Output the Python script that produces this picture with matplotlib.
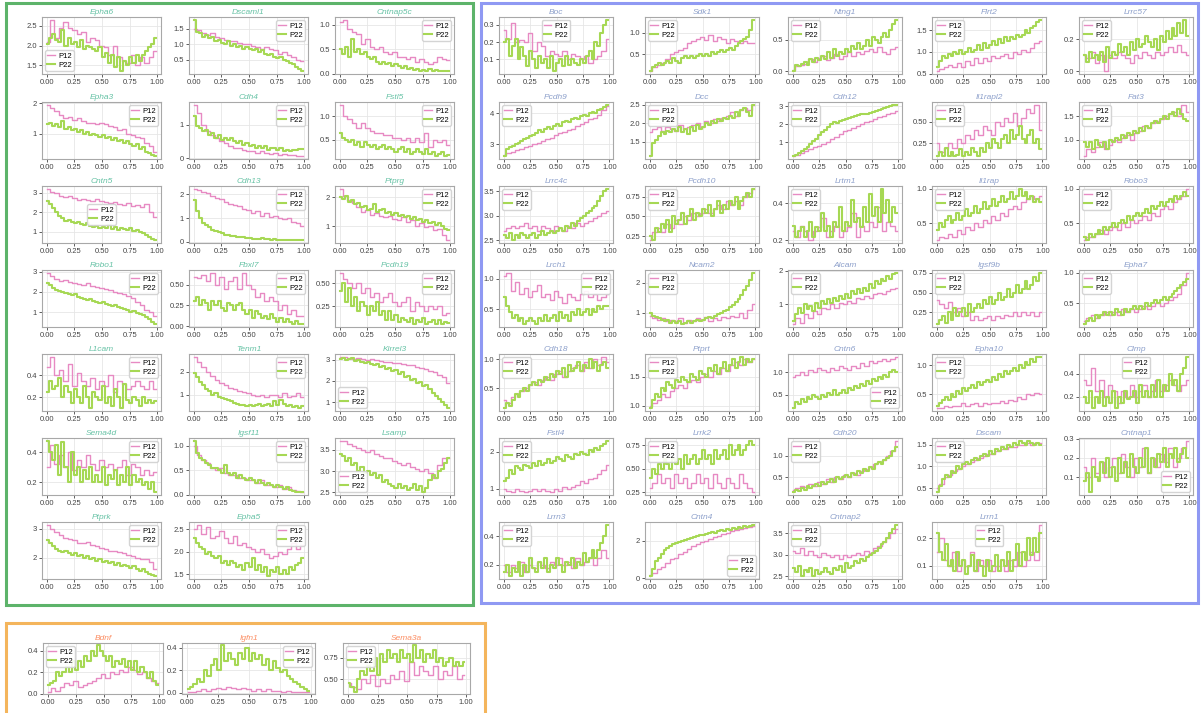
import numpy as np
import matplotlib
matplotlib.use("Agg")
import matplotlib.pyplot as plt
from matplotlib.patches import Rectangle
from matplotlib.ticker import MaxNLocator

# ---- gene groups (panel order, row by row) ----
green_genes = ["Epha6", "Dscaml1", "Cntnap5c", "Epha3", "Cdh4", "Fstl5", "Cntn5", "Cdh13", "Ptprg",
               "Robo1", "Fbxl7", "Pcdh19", "L1cam", "Tenm1", "Kirrel3", "Sema4d", "Igsf11", "Lsamp",
               "Ptprk", "Epha5"]
blue_genes = ["Boc", "Sdk1", "Ntng1", "Flrt2", "Lrrc57", "Pcdh9", "Dcc", "Cdh12", "Il1rapl2", "Fat3",
              "Lrrc4c", "Pcdh10", "Lrtm1", "Il1rap", "Robo3", "Lrch1", "Ncam2", "Alcam", "Igsf9b", "Epha7",
              "Cdh18", "Ptprt", "Cntn6", "Epha10", "Clmp", "Fstl4", "Lrrk2", "Cdh20", "Dscam", "Cntnap1",
              "Lrrn3", "Cntn4", "Cntnap2", "Lrrn1"]
orange_genes = ["Bdnf", "Igfn1", "Sema3a"]

# ---- values (P12 coarse bins, P22 fine bins) ----
epha6_p12 = [2.1, 2.65, 2.2, 2.45, 2.6, 2.45, 2.4, 2.3, 2.35, 2.1, 2.2, 2.15, 2.0, 1.95, 1.75, 2.0, 1.7, 1.6, 1.55, 1.75, 1.5, 1.7, 1.55, 1.7, 1.85]
epha6_p22 = [2.05, 2.2, 2.3, 2.15, 2.1, 2.4, 2.0, 2.2, 2.05, 2.1, 1.95, 2.15, 1.9, 2.0, 1.95, 1.9, 1.85, 1.95, 1.7, 1.8, 1.55, 1.75, 1.45, 1.7, 1.35, 1.6, 1.5, 1.7, 1.55, 1.75, 1.6, 1.75, 1.85, 1.95, 2.05, 2.2]
dscaml1_p12 = [1.5, 1.45, 1.35, 1.3, 1.35, 1.25, 1.2, 1.15, 1.1, 1.1, 1.05, 1.0, 1.0, 0.95, 0.9, 0.85, 0.9, 0.85, 0.8, 0.7, 0.75, 0.65, 0.6, 0.5, 0.45]
dscaml1_p22 = [1.8, 1.4, 1.35, 1.25, 1.3, 1.2, 1.25, 1.1, 1.15, 1.05, 1.0, 1.1, 0.95, 1.0, 0.9, 0.95, 0.85, 0.9, 0.85, 0.8, 0.85, 0.75, 0.8, 0.7, 0.65, 0.7, 0.6, 0.55, 0.6, 0.5, 0.45, 0.4, 0.35, 0.25, 0.2, 0.12]
cntnap5c_p12 = [1.05, 1.1, 0.9, 0.85, 0.8, 0.6, 0.7, 0.55, 0.5, 0.55, 0.45, 0.4, 0.45, 0.35, 0.35, 0.3, 0.35, 0.25, 0.3, 0.25, 0.2, 0.25, 0.35, 0.3, 0.28]
cntnap5c_p22 = [0.5, 0.4, 0.55, 0.35, 0.7, 0.45, 0.5, 0.4, 0.45, 0.35, 0.3, 0.35, 0.25, 0.2, 0.25, 0.2, 0.22, 0.15, 0.2, 0.15, 0.12, 0.15, 0.1, 0.12, 0.08, 0.1, 0.06, 0.08, 0.05, 0.1, 0.06, 0.08, 0.05, 0.06, 0.05, 0.05]
epha3_p12 = [1.95, 1.85, 1.75, 1.6, 1.5, 1.55, 1.45, 1.5, 1.4, 1.35, 1.35, 1.3, 1.35, 1.3, 1.25, 1.2, 1.1, 1.15, 1.0, 0.95, 0.9, 0.85, 0.7, 0.6, 0.4]
epha3_p22 = [1.3, 1.35, 1.25, 1.3, 1.2, 1.4, 1.15, 1.2, 1.1, 1.15, 1.05, 1.1, 1.0, 1.05, 0.95, 1.0, 0.95, 0.9, 0.95, 0.85, 0.9, 0.8, 0.85, 0.75, 0.8, 0.7, 0.75, 0.65, 0.6, 0.65, 0.5, 0.55, 0.4, 0.35, 0.3, 0.25]
cdh4_p12 = [1.6, 1.35, 1.0, 0.8, 0.7, 0.6, 0.5, 0.45, 0.35, 0.3, 0.3, 0.25, 0.2, 0.2, 0.15, 0.2, 0.15, 0.12, 0.15, 0.1, 0.12, 0.08, 0.1, 0.07, 0.05]
cdh4_p22 = [1.25, 0.95, 0.9, 0.8, 0.85, 0.7, 0.75, 0.6, 0.7, 0.55, 0.6, 0.55, 0.6, 0.5, 0.45, 0.5, 0.4, 0.45, 0.35, 0.4, 0.3, 0.35, 0.3, 0.35, 0.25, 0.3, 0.3, 0.25, 0.3, 0.2, 0.25, 0.2, 0.25, 0.25, 0.28, 0.28]
fstl5_p12 = [1.25, 1.0, 0.95, 0.85, 0.75, 0.85, 0.75, 0.7, 0.65, 0.65, 0.6, 0.6, 0.55, 0.55, 0.5, 0.55, 0.45, 0.55, 0.45, 0.65, 0.35, 0.5, 0.45, 0.5, 0.4]
fstl5_p22 = [0.65, 0.55, 0.5, 0.45, 0.5, 0.4, 0.45, 0.35, 0.45, 0.4, 0.35, 0.4, 0.3, 0.35, 0.4, 0.3, 0.35, 0.3, 0.25, 0.3, 0.35, 0.25, 0.3, 0.2, 0.25, 0.3, 0.25, 0.2, 0.3, 0.2, 0.25, 0.15, 0.2, 0.25, 0.15, 0.18]
cntn5_p12 = [3.2, 3.05, 2.95, 2.8, 2.75, 2.8, 2.7, 2.6, 2.65, 2.6, 2.55, 2.65, 2.55, 2.5, 2.45, 2.5, 2.4, 2.35, 2.45, 2.3, 2.35, 2.25, 2.4, 2.0, 1.75]
cntn5_p22 = [2.55, 2.4, 2.2, 2.0, 1.8, 1.7, 1.55, 1.6, 1.5, 1.45, 1.5, 1.4, 1.35, 1.45, 1.3, 1.25, 1.3, 1.2, 1.25, 1.2, 1.35, 1.15, 1.25, 1.1, 1.2, 1.15, 1.1, 1.2, 1.05, 1.1, 1.0, 0.95, 0.85, 0.7, 0.6, 0.55]
cdh13_p12 = [2.25, 2.2, 2.1, 2.05, 1.95, 1.85, 1.8, 1.7, 1.6, 1.55, 1.5, 1.4, 1.35, 1.2, 1.3, 1.1, 1.2, 1.05, 1.1, 1.0, 0.95, 1.0, 0.85, 0.8, 0.65]
cdh13_p22 = [1.75, 1.3, 1.0, 0.8, 0.7, 0.6, 0.5, 0.45, 0.4, 0.35, 0.3, 0.3, 0.25, 0.25, 0.2, 0.2, 0.18, 0.15, 0.15, 0.12, 0.12, 0.1, 0.15, 0.1, 0.1, 0.08, 0.1, 0.08, 0.05, 0.08, 0.05, 0.05, 0.06, 0.05, 0.05, 0.05]
ptprg_p12 = [2.3, 2.05, 1.9, 1.8, 1.65, 1.5, 1.55, 1.4, 1.45, 1.35, 1.3, 1.35, 1.25, 1.2, 1.3, 1.15, 1.2, 1.0, 1.1, 0.95, 1.0, 0.85, 0.9, 0.7, 0.5]
ptprg_p22 = [2.0, 1.95, 2.05, 1.85, 1.9, 1.75, 1.8, 1.65, 1.7, 1.55, 1.6, 1.75, 1.5, 1.55, 1.6, 1.45, 1.5, 1.4, 1.45, 1.35, 1.4, 1.3, 1.35, 1.25, 1.3, 1.2, 1.25, 1.15, 1.2, 1.1, 1.15, 1.05, 1.1, 1.0, 0.9, 0.85]
robo1_p12 = [2.95, 2.8, 2.65, 2.55, 2.6, 2.5, 2.45, 2.4, 2.35, 2.45, 2.3, 2.25, 2.2, 2.15, 2.1, 2.0, 1.95, 1.9, 1.8, 1.7, 1.5, 1.35, 1.1, 1.0, 0.8]
robo1_p22 = [2.45, 2.35, 2.2, 2.1, 2.05, 2.0, 1.95, 1.9, 1.85, 1.9, 1.75, 1.7, 1.65, 1.6, 1.65, 1.55, 1.5, 1.45, 1.5, 1.4, 1.35, 1.3, 1.35, 1.25, 1.2, 1.15, 1.1, 1.0, 1.05, 0.95, 0.9, 0.85, 0.75, 0.65, 0.5, 0.4]
fbxl7_p12 = [0.6, 0.58, 0.62, 0.55, 0.65, 0.5, 0.6, 0.45, 0.55, 0.6, 0.45, 0.65, 0.5, 0.45, 0.35, 0.4, 0.3, 0.35, 0.3, 0.2, 0.25, 0.15, 0.2, 0.12, 0.12]
fbxl7_p22 = [0.3, 0.35, 0.25, 0.32, 0.28, 0.2, 0.3, 0.25, 0.3, 0.22, 0.18, 0.28, 0.25, 0.2, 0.25, 0.28, 0.2, 0.15, 0.2, 0.1, 0.18, 0.15, 0.1, 0.12, 0.08, 0.15, 0.1, 0.05, 0.1, 0.05, 0.08, 0.05, 0.03, 0.06, 0.03, 0.02]
pcdh19_p12 = [0.62, 0.55, 0.5, 0.45, 0.5, 0.4, 0.45, 0.35, 0.4, 0.3, 0.35, 0.4, 0.3, 0.25, 0.3, 0.35, 0.2, 0.3, 0.25, 0.2, 0.25, 0.22, 0.25, 0.15, 0.18]
pcdh19_p22 = [0.42, 0.5, 0.3, 0.45, 0.25, 0.35, 0.2, 0.3, 0.25, 0.15, 0.25, 0.2, 0.3, 0.15, 0.2, 0.1, 0.2, 0.1, 0.15, 0.08, 0.12, 0.1, 0.08, 0.12, 0.05, 0.1, 0.08, 0.12, 0.05, 0.08, 0.1, 0.05, 0.1, 0.05, 0.08, 0.06]
l1cam_p12 = [0.48, 0.57, 0.4, 0.45, 0.35, 0.5, 0.3, 0.42, 0.35, 0.3, 0.38, 0.28, 0.35, 0.3, 0.4, 0.25, 0.35, 0.32, 0.28, 0.3, 0.35, 0.3, 0.28, 0.35, 0.28]
l1cam_p22 = [0.25, 0.35, 0.28, 0.3, 0.38, 0.2, 0.3, 0.25, 0.15, 0.28, 0.2, 0.15, 0.3, 0.2, 0.1, 0.25, 0.2, 0.18, 0.3, 0.15, 0.2, 0.12, 0.28, 0.2, 0.1, 0.32, 0.18, 0.15, 0.2, 0.18, 0.12, 0.2, 0.15, 0.18, 0.15, 0.17]
tenm1_p12 = [2.65, 2.4, 2.2, 2.0, 1.8, 1.65, 1.5, 1.4, 1.3, 1.25, 1.15, 1.1, 1.05, 1.0, 0.95, 1.0, 0.9, 1.0, 1.0, 0.9, 1.05, 0.9, 0.95, 1.05, 0.9]
tenm1_p22 = [1.95, 1.75, 1.55, 1.4, 1.25, 1.15, 1.0, 1.05, 0.9, 0.85, 0.8, 0.75, 0.7, 0.65, 0.6, 0.55, 0.55, 0.5, 0.55, 0.5, 0.55, 0.6, 0.5, 0.55, 0.6, 0.5, 0.7, 0.55, 0.75, 0.6, 0.5, 0.55, 0.45, 0.5, 0.4, 0.5]
kirrel3_p12 = [3.15, 3.15, 3.1, 3.05, 3.1, 3.05, 3.0, 3.05, 3.0, 2.95, 2.9, 2.9, 2.85, 2.85, 2.8, 2.75, 2.75, 2.65, 2.6, 2.55, 2.45, 2.4, 2.3, 2.2, 1.9]
kirrel3_p22 = [3.05, 3.1, 3.0, 3.05, 3.1, 2.95, 3.0, 2.9, 2.85, 2.9, 2.8, 2.75, 2.8, 2.65, 2.7, 2.55, 2.6, 2.45, 2.5, 2.35, 2.4, 2.2, 2.25, 2.05, 2.1, 1.9, 1.95, 1.75, 1.8, 1.6, 1.45, 1.3, 1.15, 1.0, 0.85, 0.7]
sema4d_p12 = [0.3, 0.45, 0.32, 0.38, 0.3, 0.4, 0.28, 0.35, 0.3, 0.38, 0.32, 0.28, 0.35, 0.3, 0.32, 0.28, 0.3, 0.35, 0.25, 0.32, 0.3, 0.25, 0.28, 0.25, 0.27]
sema4d_p22 = [0.48, 0.4, 0.35, 0.45, 0.25, 0.47, 0.3, 0.2, 0.4, 0.25, 0.3, 0.2, 0.28, 0.22, 0.3, 0.2, 0.25, 0.2, 0.3, 0.18, 0.25, 0.22, 0.28, 0.18, 0.25, 0.2, 0.3, 0.18, 0.25, 0.2, 0.22, 0.18, 0.2, 0.15, 0.2, 0.13]
igsf11_p12 = [1.0, 0.8, 0.7, 0.65, 0.55, 0.5, 0.55, 0.45, 0.4, 0.4, 0.35, 0.35, 0.3, 0.3, 0.25, 0.3, 0.2, 0.2, 0.15, 0.2, 0.12, 0.15, 0.1, 0.08, 0.05]
igsf11_p22 = [1.1, 0.85, 0.75, 0.7, 0.65, 0.6, 0.55, 0.55, 0.5, 0.45, 0.6, 0.45, 0.4, 0.45, 0.35, 0.4, 0.35, 0.3, 0.35, 0.3, 0.25, 0.3, 0.25, 0.2, 0.25, 0.2, 0.15, 0.2, 0.15, 0.12, 0.15, 0.1, 0.08, 0.05, 0.05, 0.05]
lsamp_p12 = [3.72, 3.7, 3.65, 3.6, 3.55, 3.5, 3.45, 3.5, 3.4, 3.35, 3.3, 3.3, 3.25, 3.2, 3.15, 3.2, 3.1, 3.05, 3.0, 3.05, 2.95, 2.85, 3.15, 3.3, 3.3]
lsamp_p22 = [3.4, 3.35, 3.25, 3.3, 3.15, 3.2, 3.0, 3.1, 2.95, 3.0, 2.9, 2.95, 2.85, 2.9, 2.75, 2.8, 2.7, 2.65, 2.6, 2.7, 2.6, 2.65, 2.55, 2.6, 2.7, 2.55, 2.65, 2.5, 2.6, 2.8, 2.9, 2.85, 3.0, 3.05, 3.2, 3.3]
ptprk_p12 = [3.15, 3.0, 2.9, 2.8, 2.7, 2.65, 2.6, 2.5, 2.5, 2.55, 2.45, 2.4, 2.35, 2.3, 2.25, 2.25, 2.2, 2.15, 2.1, 2.05, 2.0, 1.95, 1.95, 1.85, 1.6]
ptprk_p22 = [2.6, 2.5, 2.4, 2.3, 2.25, 2.2, 2.25, 2.15, 2.1, 2.15, 2.05, 2.1, 2.0, 2.05, 1.95, 2.0, 1.9, 1.95, 1.85, 1.9, 1.8, 1.85, 1.75, 1.8, 1.7, 1.75, 1.7, 1.65, 1.7, 1.6, 1.55, 1.6, 1.5, 1.45, 1.4, 1.35]
epha5_p12 = [2.5, 2.6, 2.4, 2.55, 2.3, 2.35, 2.45, 2.3, 2.2, 2.35, 2.15, 2.2, 2.1, 2.05, 2.0, 2.05, 1.95, 1.85, 1.9, 2.0, 1.95, 2.05, 2.2, 2.05, 2.15]
epha5_p22 = [2.3, 2.2, 2.1, 2.05, 1.95, 2.0, 1.9, 1.85, 1.9, 1.75, 1.8, 1.7, 1.8, 1.75, 1.65, 1.7, 1.6, 1.75, 1.65, 1.85, 1.6, 1.7, 1.55, 1.65, 1.45, 1.6, 1.55, 1.65, 1.5, 1.6, 1.5, 1.65, 1.6, 1.7, 1.75, 1.85]

boc_p12 = [0.27, 0.22, 0.31, 0.2, 0.21, 0.2, 0.25, 0.15, 0.2, 0.18, 0.12, 0.15, 0.13, 0.12, 0.15, 0.1, 0.13, 0.12, 0.1, 0.12, 0.08, 0.1, 0.12, 0.15, 0.22]
boc_p22 = [0.2, 0.22, 0.12, 0.18, 0.22, 0.1, 0.17, 0.12, 0.06, 0.15, 0.1, 0.05, 0.12, 0.08, 0.1, 0.05, 0.12, 0.03, 0.08, 0.1, 0.06, 0.12, 0.07, 0.1, 0.08, 0.07, 0.1, 0.08, 0.12, 0.15, 0.1, 0.2, 0.18, 0.25, 0.3, 0.33]
sdk1_p12 = [0.12, 0.2, 0.25, 0.3, 0.38, 0.5, 0.55, 0.6, 0.65, 0.75, 0.8, 0.85, 0.9, 0.82, 0.95, 0.8, 0.9, 0.85, 0.75, 0.85, 0.8, 0.75, 0.8, 0.75, 0.75]
sdk1_p22 = [0.1, 0.2, 0.25, 0.3, 0.25, 0.3, 0.35, 0.3, 0.4, 0.35, 0.3, 0.4, 0.45, 0.4, 0.45, 0.4, 0.45, 0.5, 0.45, 0.5, 0.45, 0.55, 0.5, 0.55, 0.6, 0.55, 0.6, 0.65, 0.6, 0.7, 0.75, 0.8, 0.85, 0.9, 1.05, 1.3]
ntng1_p12 = [0.02, 0.08, 0.1, 0.12, 0.2, 0.15, 0.22, 0.25, 0.18, 0.22, 0.28, 0.2, 0.25, 0.3, 0.25, 0.3, 0.28, 0.32, 0.35, 0.3, 0.38, 0.3, 0.28, 0.35, 0.38]
ntng1_p22 = [0.0, 0.1, 0.08, 0.12, 0.15, 0.1, 0.2, 0.15, 0.22, 0.18, 0.25, 0.2, 0.3, 0.22, 0.35, 0.25, 0.3, 0.28, 0.35, 0.3, 0.4, 0.35, 0.45, 0.35, 0.4, 0.5, 0.4, 0.55, 0.5, 0.45, 0.55, 0.6, 0.55, 0.65, 0.75, 0.82]
flrt2_p12 = [0.55, 0.6, 0.65, 0.7, 0.65, 0.75, 0.65, 0.8, 0.7, 0.85, 0.75, 0.85, 0.8, 0.9, 0.85, 0.9, 0.95, 0.85, 1.0, 0.95, 1.05, 1.0, 1.1, 1.2, 1.25]
flrt2_p22 = [0.65, 0.8, 0.9, 0.85, 0.95, 0.9, 1.0, 0.95, 1.05, 0.95, 1.0, 1.1, 1.0, 1.05, 1.15, 1.05, 1.2, 1.1, 1.15, 1.25, 1.15, 1.3, 1.2, 1.35, 1.25, 1.35, 1.3, 1.4, 1.35, 1.4, 1.5, 1.45, 1.55, 1.6, 1.7, 1.75]
lrrc57_p12 = [0.1, 0.08, 0.12, 0.05, 0.1, 0.0, 0.1, 0.08, 0.12, 0.1, 0.08, 0.05, 0.1, 0.08, 0.12, 0.1, 0.08, 0.12, 0.1, 0.12, 0.15, 0.12, 0.16, 0.12, 0.1]
lrrc57_p22 = [0.1, 0.06, 0.12, 0.08, 0.1, 0.07, 0.12, 0.06, 0.15, 0.08, 0.12, 0.1, 0.17, 0.12, 0.15, 0.1, 0.18, 0.13, 0.2, 0.15, 0.17, 0.22, 0.18, 0.15, 0.2, 0.13, 0.22, 0.18, 0.25, 0.2, 0.27, 0.22, 0.3, 0.24, 0.32, 0.22]
pcdh9_p12 = [2.65, 2.7, 2.75, 2.8, 2.85, 2.9, 2.95, 3.0, 3.05, 3.1, 3.15, 3.2, 3.3, 3.35, 3.4, 3.45, 3.5, 3.6, 3.65, 3.7, 3.8, 3.85, 3.95, 4.1, 4.25]
pcdh9_p22 = [2.6, 2.85, 2.9, 2.95, 3.0, 3.05, 3.1, 3.15, 3.2, 3.25, 3.3, 3.35, 3.45, 3.4, 3.5, 3.55, 3.5, 3.6, 3.65, 3.6, 3.7, 3.75, 3.7, 3.8, 3.85, 3.8, 3.9, 3.95, 3.9, 4.0, 4.05, 4.0, 4.1, 4.15, 4.2, 4.28]
dcc_p12 = [1.75, 1.85, 1.9, 1.8, 1.9, 1.85, 1.8, 1.95, 1.85, 1.9, 1.95, 2.0, 1.9, 2.05, 2.0, 2.1, 2.05, 2.15, 2.2, 2.3, 2.2, 2.35, 2.4, 2.35, 2.5]
dcc_p22 = [1.1, 1.45, 1.55, 1.65, 1.75, 1.7, 1.8, 1.75, 1.85, 1.8, 1.9, 1.75, 1.85, 1.7, 1.9, 1.8, 1.95, 1.85, 1.9, 2.0, 1.95, 2.05, 2.0, 2.1, 2.05, 2.15, 2.1, 2.2, 2.15, 2.3, 2.2, 2.35, 2.4, 2.3, 2.2, 2.5]
cdh12_p12 = [0.2, 0.3, 0.4, 0.5, 0.6, 0.7, 0.8, 0.9, 1.0, 1.15, 1.3, 1.45, 1.6, 1.7, 1.8, 1.9, 2.0, 2.1, 2.2, 2.3, 2.4, 2.45, 2.55, 2.65, 2.75]
cdh12_p22 = [0.25, 0.3, 0.4, 0.5, 0.6, 0.75, 0.9, 1.05, 1.2, 1.4, 1.55, 1.7, 1.85, 2.0, 2.1, 2.05, 2.2, 2.25, 2.3, 2.35, 2.4, 2.45, 2.5, 2.55, 2.6, 2.6, 2.65, 2.7, 2.75, 2.8, 2.85, 2.9, 2.95, 3.0, 3.05, 3.1]
il1rapl2_p12 = [0.25, 0.15, 0.2, 0.25, 0.2, 0.3, 0.25, 0.35, 0.3, 0.4, 0.35, 0.45, 0.4, 0.35, 0.5, 0.45, 0.55, 0.5, 0.6, 0.45, 0.55, 0.65, 0.6, 0.7, 0.4]
il1rapl2_p22 = [0.1, 0.15, 0.1, 0.2, 0.1, 0.15, 0.1, 0.12, 0.18, 0.1, 0.15, 0.12, 0.2, 0.15, 0.1, 0.2, 0.15, 0.25, 0.2, 0.3, 0.25, 0.2, 0.3, 0.35, 0.25, 0.4, 0.3, 0.35, 0.45, 0.3, 0.25, 0.35, 0.4, 0.25, 0.3, 0.18]
fat3_p12 = [0.65, 0.8, 0.75, 0.85, 0.95, 0.8, 0.9, 1.0, 0.95, 1.05, 1.1, 1.0, 1.15, 1.2, 1.3, 1.25, 1.35, 1.4, 1.45, 1.5, 1.55, 1.6, 1.5, 1.75, 1.6]
fat3_p22 = [0.95, 0.85, 0.95, 0.8, 1.0, 0.9, 0.85, 0.95, 0.8, 1.0, 0.95, 1.05, 1.0, 1.1, 1.05, 1.15, 1.1, 1.2, 1.15, 1.25, 1.2, 1.3, 1.25, 1.35, 1.4, 1.35, 1.45, 1.5, 1.45, 1.55, 1.6, 1.5, 1.65, 1.55, 1.45, 1.4]
lrrc4c_p12 = [2.7, 2.75, 2.8, 2.75, 2.8, 2.85, 2.75, 2.8, 2.7, 2.8, 2.75, 2.7, 2.8, 2.75, 2.7, 2.8, 2.75, 2.85, 2.8, 2.85, 2.9, 2.95, 3.0, 3.05, 3.1]
lrrc4c_p22 = [2.6, 2.55, 2.65, 2.5, 2.6, 2.55, 2.65, 2.6, 2.55, 2.6, 2.65, 2.55, 2.6, 2.7, 2.6, 2.65, 2.7, 2.65, 2.7, 2.75, 2.7, 2.8, 2.75, 2.85, 2.8, 2.9, 2.95, 3.0, 3.05, 3.1, 3.15, 3.2, 3.3, 3.4, 3.5, 3.55]
pcdh10_p12 = [0.2, 0.3, 0.35, 0.3, 0.4, 0.35, 0.45, 0.4, 0.5, 0.45, 0.55, 0.5, 0.55, 0.6, 0.55, 0.6, 0.65, 0.6, 0.7, 0.65, 0.7, 0.65, 0.75, 0.8, 0.85]
pcdh10_p22 = [0.25, 0.2, 0.35, 0.3, 0.4, 0.35, 0.45, 0.3, 0.5, 0.4, 0.45, 0.55, 0.4, 0.5, 0.6, 0.45, 0.55, 0.5, 0.6, 0.55, 0.65, 0.5, 0.6, 0.7, 0.55, 0.65, 0.6, 0.7, 0.65, 0.75, 0.6, 0.7, 0.75, 0.8, 0.75, 0.85]
lrtm1_p12 = [0.25, 0.22, 0.28, 0.25, 0.2, 0.25, 0.27, 0.32, 0.22, 0.25, 0.28, 0.22, 0.25, 0.27, 0.35, 0.22, 0.28, 0.25, 0.3, 0.27, 0.38, 0.25, 0.3, 0.28, 0.25]
lrtm1_p22 = [0.28, 0.22, 0.25, 0.27, 0.22, 0.25, 0.3, 0.22, 0.27, 0.25, 0.35, 0.25, 0.28, 0.22, 0.3, 0.27, 0.38, 0.25, 0.3, 0.28, 0.42, 0.3, 0.32, 0.27, 0.38, 0.3, 0.45, 0.33, 0.38, 0.3, 0.48, 0.35, 0.42, 0.3, 0.38, 0.35]
il1rap_p12 = [0.25, 0.3, 0.28, 0.35, 0.3, 0.4, 0.35, 0.45, 0.4, 0.5, 0.45, 0.55, 0.5, 0.6, 0.55, 0.65, 0.6, 0.7, 0.75, 0.7, 0.8, 0.85, 0.9, 0.85, 0.9]
il1rap_p22 = [0.4, 0.5, 0.45, 0.55, 0.6, 0.5, 0.55, 0.65, 0.55, 0.6, 0.7, 0.6, 0.65, 0.75, 0.65, 0.7, 0.8, 0.7, 0.75, 0.85, 0.75, 0.8, 0.9, 0.8, 0.85, 0.95, 0.85, 0.9, 1.0, 0.9, 0.95, 0.85, 0.9, 0.8, 0.85, 0.8]
robo3_p12 = [0.25, 0.3, 0.3, 0.35, 0.4, 0.35, 0.4, 0.45, 0.4, 0.5, 0.45, 0.55, 0.5, 0.55, 0.6, 0.55, 0.65, 0.6, 0.7, 0.75, 0.7, 0.8, 0.85, 0.9, 1.0]
robo3_p22 = [0.3, 0.25, 0.35, 0.3, 0.35, 0.4, 0.35, 0.45, 0.4, 0.45, 0.5, 0.45, 0.5, 0.55, 0.5, 0.6, 0.55, 0.6, 0.65, 0.6, 0.65, 0.7, 0.65, 0.75, 0.7, 0.75, 0.8, 0.75, 0.8, 0.85, 0.8, 0.9, 0.85, 0.9, 0.95, 0.9]
lrch1_p12 = [1.05, 1.1, 0.8, 0.95, 0.75, 0.85, 0.7, 0.8, 0.9, 0.7, 0.75, 0.65, 0.8, 0.7, 0.6, 0.75, 0.7, 0.65, 0.75, 0.8, 0.7, 0.75, 0.65, 0.7, 0.75]
lrch1_p22 = [0.7, 0.55, 0.45, 0.35, 0.4, 0.3, 0.35, 0.25, 0.3, 0.35, 0.3, 0.25, 0.35, 0.3, 0.4, 0.3, 0.35, 0.4, 0.3, 0.45, 0.35, 0.4, 0.3, 0.45, 0.4, 0.5, 0.4, 0.45, 0.5, 0.4, 0.5, 0.45, 0.55, 0.5, 0.55, 0.55]
ncam2_p12 = [0.9, 0.8, 0.75, 0.8, 0.7, 0.75, 0.7, 0.8, 0.65, 0.75, 0.7, 0.8, 0.75, 0.85, 0.7, 0.8, 0.75, 0.85, 0.8, 0.9, 0.85, 1.0, 0.8, 1.1, 1.3]
ncam2_p22 = [1.0, 0.9, 0.85, 0.8, 0.75, 0.7, 0.75, 0.65, 0.7, 0.65, 0.7, 0.6, 0.65, 0.7, 0.65, 0.7, 0.75, 0.7, 0.75, 0.8, 0.85, 0.8, 0.9, 0.95, 1.0, 1.05, 1.1, 1.2, 1.25, 1.35, 1.45, 1.6, 1.75, 1.9, 2.1, 2.35]
alcam_p12 = [0.4, 0.6, 0.45, 0.7, 0.6, 0.8, 0.7, 0.9, 0.85, 1.0, 0.9, 1.05, 1.0, 1.1, 1.05, 1.2, 1.15, 1.25, 1.2, 1.3, 1.35, 1.3, 1.4, 1.45, 1.5]
alcam_p22 = [0.5, 0.7, 0.9, 0.75, 1.0, 0.85, 0.95, 0.8, 1.05, 0.9, 1.1, 1.0, 1.15, 1.05, 1.2, 1.1, 1.25, 1.15, 1.3, 1.2, 1.4, 1.3, 1.45, 1.35, 1.5, 1.4, 1.6, 1.5, 1.7, 1.6, 1.75, 1.7, 1.85, 1.75, 1.9, 1.95]
igsf9b_p12 = [0.4, 0.35, 0.3, 0.38, 0.25, 0.3, 0.2, 0.25, 0.15, 0.2, 0.15, 0.18, 0.2, 0.15, 0.2, 0.18, 0.22, 0.2, 0.25, 0.2, 0.25, 0.22, 0.25, 0.2, 0.25]
igsf9b_p22 = [0.1, 0.15, 0.2, 0.12, 0.25, 0.15, 0.3, 0.2, 0.25, 0.3, 0.2, 0.35, 0.25, 0.3, 0.35, 0.3, 0.4, 0.35, 0.45, 0.35, 0.4, 0.5, 0.4, 0.45, 0.55, 0.45, 0.5, 0.6, 0.5, 0.55, 0.65, 0.55, 0.6, 0.7, 0.65, 0.75]
epha7_p12 = [0.2, 0.25, 0.3, 0.25, 0.3, 0.35, 0.3, 0.35, 0.3, 0.4, 0.35, 0.4, 0.35, 0.4, 0.45, 0.4, 0.45, 0.5, 0.45, 0.5, 0.55, 0.6, 0.65, 0.8, 1.0]
epha7_p22 = [0.15, 0.2, 0.25, 0.2, 0.3, 0.25, 0.3, 0.35, 0.3, 0.35, 0.3, 0.4, 0.35, 0.3, 0.4, 0.35, 0.4, 0.45, 0.4, 0.45, 0.4, 0.5, 0.45, 0.5, 0.55, 0.5, 0.55, 0.6, 0.55, 0.6, 0.65, 0.7, 0.75, 0.8, 0.85, 0.9]
cdh18_p12 = [0.3, 0.25, 0.35, 0.4, 0.45, 0.5, 0.55, 0.6, 0.55, 0.65, 0.7, 0.65, 0.75, 0.8, 0.7, 0.8, 0.85, 0.9, 0.8, 0.95, 0.85, 1.0, 0.9, 1.05, 0.95]
cdh18_p22 = [0.15, 0.25, 0.2, 0.3, 0.4, 0.35, 0.45, 0.5, 0.45, 0.55, 0.6, 0.55, 0.65, 0.6, 0.7, 0.65, 0.75, 0.7, 0.8, 0.75, 0.85, 0.7, 0.9, 0.8, 0.85, 0.95, 0.8, 0.9, 0.85, 1.0, 0.85, 0.95, 0.8, 0.9, 0.95, 0.85]
ptprt_p12 = [1.0, 1.05, 1.1, 1.2, 1.15, 1.25, 1.3, 1.35, 1.3, 1.4, 1.45, 1.4, 1.5, 1.55, 1.5, 1.6, 1.55, 1.65, 1.6, 1.7, 1.75, 1.7, 1.8, 1.75, 1.8]
ptprt_p22 = [0.95, 1.1, 1.2, 1.15, 1.3, 1.25, 1.4, 1.35, 1.3, 1.45, 1.4, 1.5, 1.45, 1.4, 1.55, 1.5, 1.45, 1.6, 1.55, 1.5, 1.65, 1.6, 1.7, 1.55, 1.65, 1.75, 1.6, 1.7, 1.8, 1.65, 1.75, 1.85, 1.7, 1.8, 1.75, 1.8]
cntn6_p12 = [0.9, 0.95, 1.0, 0.95, 1.05, 1.0, 1.1, 1.05, 1.0, 1.1, 1.05, 1.15, 1.1, 1.05, 1.15, 1.1, 1.2, 1.15, 1.25, 1.2, 1.25, 1.3, 1.25, 1.3, 1.35]
cntn6_p22 = [0.2, 0.35, 0.3, 0.4, 0.35, 0.45, 0.4, 0.5, 0.45, 0.4, 0.5, 0.45, 0.55, 0.5, 0.6, 0.5, 0.55, 0.6, 0.55, 0.65, 0.6, 0.7, 0.65, 0.75, 0.7, 0.8, 0.75, 0.85, 0.8, 0.9, 0.85, 0.95, 0.9, 1.0, 1.05, 1.0]
epha10_p12 = [0.25, 0.25, 0.3, 0.28, 0.3, 0.3, 0.35, 0.3, 0.32, 0.35, 0.3, 0.35, 0.32, 0.35, 0.35, 0.38, 0.35, 0.4, 0.38, 0.45, 0.42, 0.5, 0.48, 0.52, 0.5]
epha10_p22 = [0.3, 0.35, 0.4, 0.45, 0.4, 0.5, 0.45, 0.55, 0.5, 0.6, 0.55, 0.6, 0.65, 0.6, 0.7, 0.65, 0.7, 0.75, 0.7, 0.8, 0.75, 0.85, 0.8, 0.9, 0.85, 0.9, 0.95, 0.9, 1.0, 0.95, 1.05, 1.0, 1.1, 1.05, 1.15, 1.15]
clmp_p12 = [0.35, 0.3, 0.45, 0.25, 0.35, 0.2, 0.3, 0.25, 0.15, 0.25, 0.2, 0.3, 0.2, 0.25, 0.3, 0.2, 0.25, 0.35, 0.25, 0.3, 0.35, 0.3, 0.25, 0.3, 0.35]
clmp_p22 = [0.2, 0.15, 0.25, 0.1, 0.2, 0.15, 0.25, 0.12, 0.2, 0.15, 0.25, 0.1, 0.2, 0.15, 0.25, 0.18, 0.2, 0.25, 0.15, 0.3, 0.2, 0.25, 0.2, 0.3, 0.2, 0.35, 0.2, 0.3, 0.25, 0.4, 0.3, 0.35, 0.25, 0.4, 0.45, 0.55]
fstl4_p12 = [1.0, 0.95, 0.9, 1.0, 0.95, 0.9, 0.95, 1.0, 0.95, 1.0, 0.95, 0.9, 1.0, 0.95, 1.05, 1.0, 1.05, 1.1, 1.2, 1.15, 1.25, 1.3, 1.4, 1.5, 1.65]
fstl4_p22 = [1.2, 1.3, 1.5, 1.4, 1.6, 1.55, 1.5, 1.65, 1.6, 1.55, 1.7, 1.6, 1.75, 1.65, 1.7, 1.8, 1.7, 1.75, 1.85, 1.8, 1.75, 1.9, 1.85, 1.8, 1.95, 1.9, 2.0, 1.95, 1.9, 2.05, 2.0, 2.1, 2.05, 2.15, 2.2, 2.3]
lrrk2_p12 = [0.3, 0.35, 0.45, 0.35, 0.4, 0.3, 0.45, 0.35, 0.4, 0.3, 0.35, 0.45, 0.35, 0.4, 0.3, 0.45, 0.35, 0.3, 0.4, 0.35, 0.3, 0.45, 0.35, 0.3, 0.25]
lrrk2_p22 = [0.4, 0.5, 0.45, 0.55, 0.5, 0.6, 0.55, 0.5, 0.6, 0.55, 0.6, 0.5, 0.65, 0.55, 0.6, 0.65, 0.55, 0.6, 0.7, 0.6, 0.65, 0.55, 0.7, 0.6, 0.65, 0.7, 0.6, 0.75, 0.65, 0.7, 0.75, 0.65, 0.7, 0.75, 0.8, 0.75]
cdh20_p12 = [0.2, 0.25, 0.3, 0.28, 0.35, 0.3, 0.4, 0.35, 0.45, 0.4, 0.5, 0.45, 0.55, 0.5, 0.6, 0.55, 0.65, 0.7, 0.75, 0.8, 0.85, 0.9, 1.0, 1.1, 1.35]
cdh20_p22 = [0.15, 0.2, 0.18, 0.25, 0.2, 0.3, 0.25, 0.3, 0.35, 0.3, 0.4, 0.35, 0.4, 0.45, 0.4, 0.5, 0.45, 0.5, 0.55, 0.5, 0.6, 0.55, 0.65, 0.6, 0.7, 0.65, 0.75, 0.7, 0.8, 0.85, 0.8, 0.9, 0.95, 1.0, 1.1, 1.2]
dscam_p12 = [0.5, 0.6, 0.75, 0.8, 0.9, 0.95, 1.0, 1.05, 1.1, 1.15, 1.2, 1.25, 1.3, 1.3, 1.35, 1.4, 1.4, 1.45, 1.45, 1.5, 1.5, 1.55, 1.5, 1.55, 1.55]
dscam_p22 = [0.4, 0.55, 0.7, 0.8, 0.75, 0.9, 0.85, 1.0, 0.95, 1.05, 1.1, 1.05, 1.15, 1.2, 1.15, 1.25, 1.3, 1.25, 1.35, 1.3, 1.4, 1.35, 1.45, 1.4, 1.5, 1.45, 1.55, 1.5, 1.6, 1.55, 1.5, 1.6, 1.55, 1.5, 1.55, 1.5]
cntnap1_p12 = [0.15, 0.1, 0.2, 0.12, 0.18, 0.1, 0.15, 0.2, 0.12, 0.22, 0.15, 0.1, 0.2, 0.15, 0.25, 0.12, 0.2, 0.15, 0.22, 0.18, 0.25, 0.15, 0.2, 0.25, 0.29]
cntnap1_p22 = [0.08, 0.12, 0.02, 0.15, 0.1, 0.08, 0.18, 0.12, 0.2, 0.1, 0.15, 0.08, 0.2, 0.12, 0.18, 0.1, 0.22, 0.15, 0.12, 0.2, 0.15, 0.25, 0.12, 0.2, 0.15, 0.22, 0.18, 0.25, 0.15, 0.22, 0.2, 0.25, 0.18, 0.22, 0.25, 0.2]
lrrn3_p12 = [0.2, 0.15, 0.2, 0.18, 0.22, 0.15, 0.2, 0.18, 0.22, 0.2, 0.18, 0.22, 0.2, 0.25, 0.2, 0.22, 0.18, 0.25, 0.2, 0.22, 0.25, 0.2, 0.25, 0.3, 0.25]
lrrn3_p22 = [0.15, 0.2, 0.12, 0.18, 0.15, 0.22, 0.12, 0.2, 0.15, 0.25, 0.18, 0.15, 0.22, 0.18, 0.25, 0.15, 0.2, 0.18, 0.25, 0.2, 0.15, 0.22, 0.2, 0.25, 0.18, 0.22, 0.2, 0.28, 0.22, 0.25, 0.3, 0.25, 0.3, 0.35, 0.4, 0.48]
cntn4_p12 = [0.2, 0.3, 0.5, 0.6, 0.8, 1.0, 1.1, 1.3, 1.4, 1.55, 1.7, 1.8, 1.9, 2.0, 2.1, 2.2, 2.25, 2.35, 2.4, 2.5, 2.55, 2.6, 2.65, 2.7, 2.8]
cntn4_p22 = [0.1, 0.5, 0.9, 1.1, 1.3, 1.5, 1.6, 1.7, 1.8, 1.85, 1.9, 2.0, 2.05, 2.1, 2.15, 2.2, 2.25, 2.3, 2.3, 2.35, 2.4, 2.45, 2.4, 2.5, 2.55, 2.5, 2.6, 2.55, 2.65, 2.6, 2.7, 2.65, 2.75, 2.7, 2.8, 2.85]
cntnap2_p12 = [3.1, 3.05, 3.15, 3.0, 3.1, 3.0, 2.95, 3.05, 3.0, 2.95, 3.0, 2.9, 3.0, 2.95, 3.0, 3.05, 3.0, 3.1, 3.05, 3.15, 3.2, 3.3, 3.4, 3.5, 3.6]
cntnap2_p22 = [2.7, 2.6, 2.75, 2.5, 2.65, 2.6, 2.7, 2.5, 2.65, 2.55, 2.6, 2.7, 2.6, 2.55, 2.7, 2.65, 2.75, 2.6, 2.8, 2.7, 2.75, 2.85, 2.8, 2.9, 2.85, 2.95, 3.0, 3.05, 3.1, 3.15, 3.25, 3.3, 3.4, 3.5, 3.6, 3.7]
lrrn1_p12 = [0.15, 0.2, 0.12, 0.1, 0.15, 0.08, 0.12, 0.1, 0.15, 0.08, 0.12, 0.1, 0.12, 0.08, 0.1, 0.12, 0.08, 0.12, 0.1, 0.15, 0.1, 0.12, 0.15, 0.12, 0.25]
lrrn1_p22 = [0.22, 0.15, 0.12, 0.18, 0.1, 0.12, 0.08, 0.15, 0.1, 0.12, 0.07, 0.1, 0.14, 0.08, 0.12, 0.1, 0.06, 0.12, 0.08, 0.1, 0.14, 0.08, 0.12, 0.1, 0.15, 0.08, 0.12, 0.18, 0.1, 0.15, 0.12, 0.2, 0.14, 0.2, 0.15, 0.22]

bdnf_p12 = [0.02, 0.05, 0.03, 0.06, 0.1, 0.08, 0.12, 0.06, 0.08, 0.1, 0.12, 0.15, 0.18, 0.15, 0.2, 0.18, 0.22, 0.2, 0.25, 0.22, 0.18, 0.2, 0.15, 0.12, 0.1]
bdnf_p22 = [0.08, 0.1, 0.12, 0.2, 0.17, 0.2, 0.25, 0.2, 0.3, 0.22, 0.3, 0.25, 0.35, 0.3, 0.4, 0.35, 0.45, 0.4, 0.35, 0.3, 0.35, 0.25, 0.3, 0.28, 0.32, 0.25, 0.3, 0.22, 0.3, 0.2, 0.25, 0.2, 0.15, 0.2, 0.12, 0.08]
igfn1_p12 = [0.01, 0.01, 0.02, 0.03, 0.02, 0.03, 0.04, 0.03, 0.05, 0.04, 0.03, 0.04, 0.03, 0.02, 0.03, 0.02, 0.03, 0.02, 0.02, 0.01, 0.02, 0.01, 0.01, 0.01, 0.01]
igfn1_p22 = [0.03, 0.05, 0.08, 0.12, 0.1, 0.2, 0.15, 0.25, 0.3, 0.2, 0.42, 0.28, 0.35, 0.3, 0.25, 0.35, 0.3, 0.4, 0.28, 0.35, 0.3, 0.33, 0.25, 0.3, 0.2, 0.28, 0.22, 0.18, 0.2, 0.15, 0.12, 0.1, 0.08, 0.05, 0.03, 0.02]
sema3a_p12 = [0.45, 0.4, 0.38, 0.5, 0.45, 0.55, 0.42, 0.5, 0.45, 0.55, 0.5, 0.6, 0.48, 0.7, 0.55, 0.65, 0.6, 0.55, 0.65, 0.5, 0.6, 0.55, 0.65, 0.5, 0.55]
sema3a_p22 = [0.45, 0.4, 0.35, 0.5, 0.6, 0.55, 0.65, 0.6, 0.75, 0.55, 0.8, 0.7, 0.85, 0.75, 0.8, 0.7, 0.85, 0.75, 0.8, 0.7, 0.9, 0.75, 0.85, 0.7, 0.8, 0.75, 0.85, 0.7, 0.75, 0.65, 0.7, 0.75, 0.65, 0.7, 0.65, 0.7]

# ---- styling ----
W, H = 1201, 713
PINK = "#e78ac3"
LIME = "#a6d854"
TITLE_COLORS = {"green": "#66c2a5", "blue": "#8da0cb", "orange": "#fc8d62"}
BOX_COLORS = {"green": "#5db36a", "blue": "#8f99f3", "orange": "#f4b55c"}

plt.rcParams["font.family"] = ["Liberation Sans", "DejaVu Sans"]

ROW_TOPS = [17, 102, 186, 270, 354, 438, 522]
AX_H = 57
GREEN_LEFTS = [42, 189, 335]
GREEN_W = 119
BLUE_LEFTS = [499, 645, 788, 932, 1079]
BLUE_W = 114
ORANGE_RECTS = [(43, 643, 120, 51), (182, 643, 133, 51), (343, 643, 127, 51)]


def series_for(gene):
    key = gene.lower()
    return globals()[key + "_p12"], globals()[key + "_p22"]


def draw_panel(fig, rect, gene, title_color):
    l, t, w, h = rect
    ax = fig.add_axes([l / W, 1 - (t + h) / H, w / W, h / H])
    p12, p22 = series_for(gene)
    x12 = np.linspace(0.005, 0.985, len(p12))
    x22 = np.linspace(0.005, 0.985, len(p22))
    ax.plot(x12, p12, drawstyle="steps-mid", color=PINK, lw=1.0, label="P12")
    ax.plot(x22, p22, drawstyle="steps-mid", color=LIME, lw=1.5, label="P22")
    ax.set_xticks([0, 0.25, 0.5, 0.75, 1.0])
    ax.set_xticklabels(["0.00", "0.25", "0.50", "0.75", "1.00"])
    ax.yaxis.set_major_locator(MaxNLocator(nbins=3, steps=[1, 2, 2.5, 5, 10]))
    ax.tick_params(labelsize=5.5, length=2, width=0.6, pad=1.5, colors="#444444")
    ax.grid(True, color="#e6e6e6", lw=0.6)
    ax.set_axisbelow(True)
    for s in ax.spines.values():
        s.set_color("#a8a8a8")
        s.set_linewidth(0.8)
    ax.set_title(gene, fontsize=6, style="italic", color=title_color, pad=2.5)
    ax.legend(fontsize=5.5, handlelength=1.0, handletextpad=0.4, borderpad=0.3,
              labelspacing=0.2, borderaxespad=0.4, framealpha=0.9, edgecolor="#d0d0d0")
    return ax


def draw_box(fig, x0, y0, x1, y1, color):
    fig.add_artist(Rectangle((x0 / W, 1 - y1 / H), (x1 - x0) / W, (y1 - y0) / H,
                             transform=fig.transFigure, fill=False, ec=color, lw=2.2))


fig = plt.figure(figsize=(W / 100, H / 100), dpi=100)
fig.patch.set_facecolor("white")

for i, gene in enumerate(green_genes):
    r, c = divmod(i, 3)
    draw_panel(fig, (GREEN_LEFTS[c], ROW_TOPS[r], GREEN_W, AX_H), gene, TITLE_COLORS["green"])

for i, gene in enumerate(blue_genes):
    r, c = divmod(i, 5)
    draw_panel(fig, (BLUE_LEFTS[c], ROW_TOPS[r], BLUE_W, AX_H), gene, TITLE_COLORS["blue"])

for rect, gene in zip(ORANGE_RECTS, orange_genes):
    draw_panel(fig, rect, gene, TITLE_COLORS["orange"])

draw_box(fig, 6, 3, 473, 605, BOX_COLORS["green"])
draw_box(fig, 481, 3, 1198, 603, BOX_COLORS["blue"])
draw_box(fig, 6, 623, 485, 740, BOX_COLORS["orange"])

fig.savefig("out.png", dpi=100)
